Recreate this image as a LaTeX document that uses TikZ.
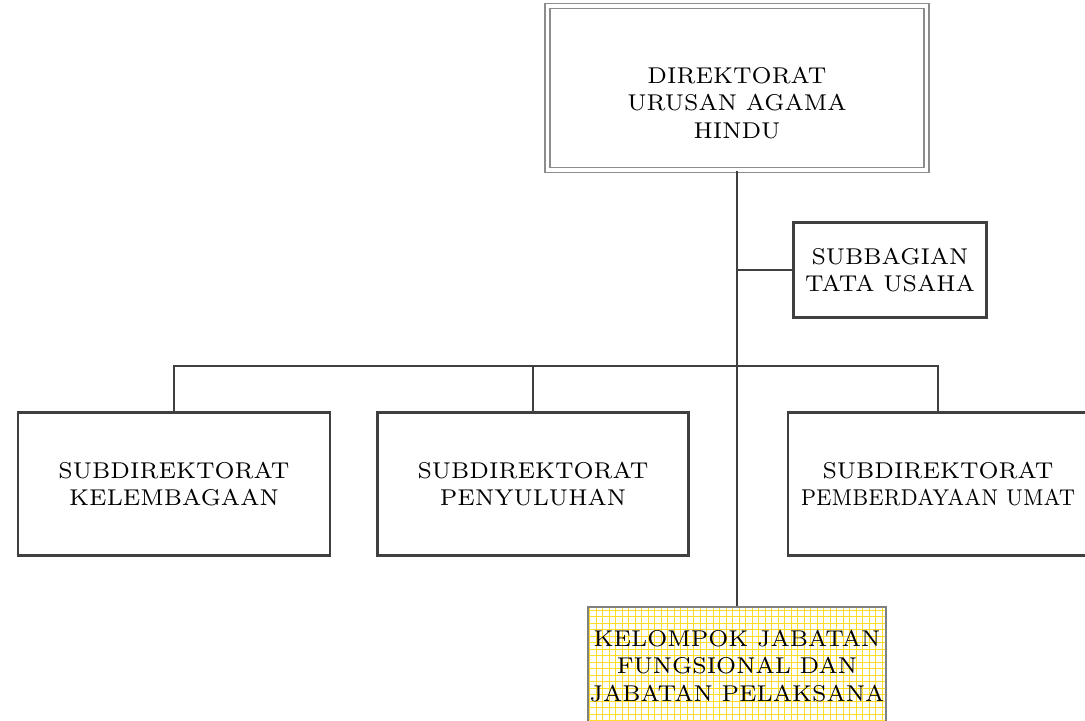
\documentclass[tikz,border=0pt]{standalone}
\usepackage{graphicx}
\begin{document}
\begin{tikzpicture}[x=0.01cm,y=-0.01cm,
    every node/.style={font=\fontsize{6.5}{7.7}\selectfont,align=center},
    link/.style={draw=black!75,line width=0.7pt},
    unit/.style={draw=black!75,line width=0.7pt,minimum width=3.11cm,minimum height=1.43cm},
    topbox/.style={draw=black!45,double,double distance=1pt,line width=0.45pt,
      minimum width=3.79cm,minimum height=1.64cm},
    gridline/.style={draw=yellow!75!orange!85,line width=0.25pt},
    fungsional/.style={draw=black!50,line width=0.45pt,fill=white,inner xsep=0.5pt,
      minimum width=2.9cm,minimum height=1.18cm,
      path picture={\draw[gridline,step=0.065cm]
        (path picture bounding box.south west) grid (path picture bounding box.north east);}}]
  \useasboundingbox (0,0) rectangle (1085,720);
  % kepala
  \node[topbox] (dir) at (737,88) {};
  \node (dirtext) at (737,103) {DIREKTORAT\\URUSAN AGAMA\\HINDU};
  \node[unit,minimum width=1.88cm,minimum height=0.95cm] (tu) at (890,270) {SUBBAGIAN\\TATA USAHA};
  % subdirektorat
  \foreach \name/\cx/\boxw/\txt in {kel/174/3.12/{SUBDIREKTORAT\\KELEMBAGAAN},
      pen/533/3.11/{SUBDIREKTORAT\\PENYULUHAN},
      pem/938/3.0/{SUBDIREKTORAT\\\scalebox{0.88}[1]{PEMBERDAYAAN UMAT}}}{
    \node[unit,minimum width=\boxw cm,inner xsep=1pt] (\name) at (\cx,484) {\txt};
  }
  \node[fungsional] (jf) at (737,666) {KELOMPOK JABATAN\\FUNGSIONAL DAN\\JABATAN PELAKSANA};
  % garis
  \coordinate (bar) at (737,366);
  \draw[link] (dir.south) -- (jf.north);
  \draw[link] (dir.south |- tu.west) -- (tu.west);
  \draw[link] (kel.north) |- (bar) -| (pem.north);
  \draw[link] (pen.north) -- (pen.north |- bar);
\end{tikzpicture}
\end{document}
